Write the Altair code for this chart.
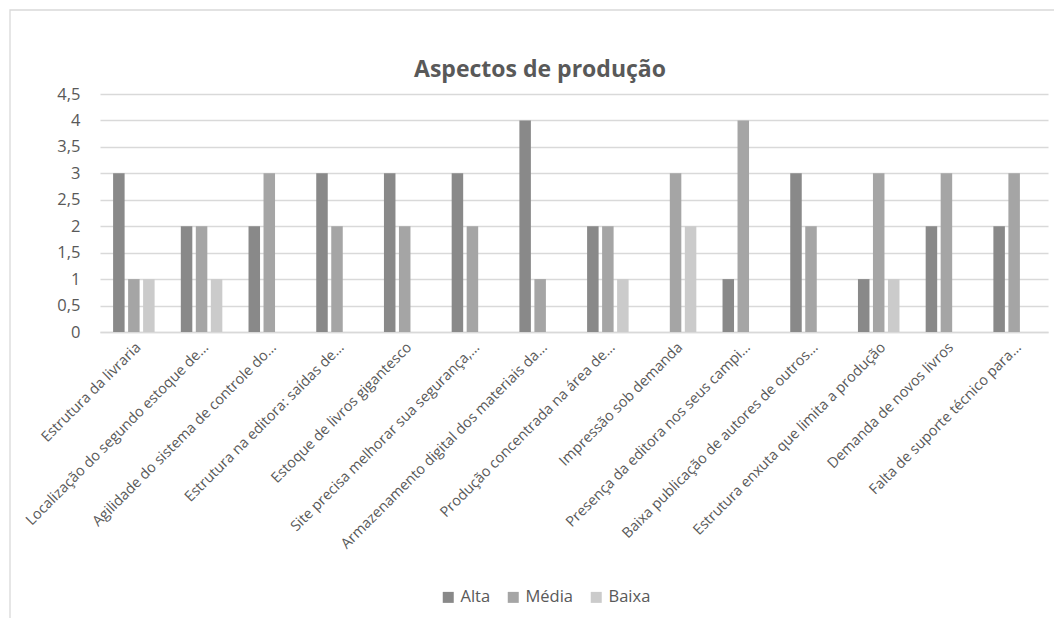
import altair as alt
import pandas as pd

categories = [
    "Estrutura da livraria",
    "Localização do segundo estoque de…",
    "Agilidade do sistema de controle do…",
    "Estrutura na editora: saídas de…",
    "Estoque de livros gigantesco",
    "Site precisa melhorar sua segurança,…",
    "Armazenamento digital dos materiais da…",
    "Produção concentrada na área de…",
    "Impressão sob demanda",
    "Presença da editora nos seus campi…",
    "Baixa publicação de autores de outros…",
    "Estrutura enxuta que limita a produção",
    "Demanda de novos livros",
    "Falta de suporte técnico para…",
]
alta = [3, 2, 2, 3, 3, 3, 4, 2, 0, 1, 3, 1, 2, 2]
media = [1, 2, 3, 2, 2, 2, 1, 2, 3, 4, 2, 3, 3, 3]
baixa = [1, 1, 0, 0, 0, 0, 0, 1, 2, 0, 0, 1, 0, 0]
series = ["Alta", "Média", "Baixa"]
colors = ["#898989", "#a5a5a5", "#cbcbcb"]
y_ticks = [0, 0.5, 1, 1.5, 2, 2.5, 3, 3.5, 4, 4.5]

rows = []
for i, c in enumerate(categories):
    for s, vals in zip(series, [alta, media, baixa]):
        rows.append({"cat": c, "serie": s, "valor": vals[i]})
df = pd.DataFrame(rows)

FONT = "Open Sans"
TXT = "#595959"

border = alt.Chart(pd.DataFrame({"a": [0]})).mark_rect(
    fill=None, stroke="#d9d9d9", strokeWidth=1.3
).encode(
    x=alt.value(-90), x2=alt.value(1100), y=alt.value(-84), y2=alt.value(700)
)

bars = alt.Chart(df).mark_bar().encode(
    x=alt.X("cat:N", sort=categories, title=None,
            scale=alt.Scale(paddingInner=0, paddingOuter=0),
            axis=alt.Axis(labelAngle=-45, labelFontSize=14.5, labelColor=TXT,
                          labelPadding=8, labelLimit=400, ticks=False,
                          domainColor="#d9d9d9", domainWidth=1.6, grid=False)),
    xOffset=alt.XOffset("serie:N", sort=series,
                        scale=alt.Scale(domain=series, paddingInner=0.233, paddingOuter=0.873)),
    y=alt.Y("valor:Q", title=None,
            scale=alt.Scale(domain=[0, 4.5], nice=False),
            axis=alt.Axis(values=y_ticks, format=".1~f",
                          labelExpr="replace(datum.label, '.', ',')",
                          labelFontSize=16.5, labelColor=TXT, ticks=False, tickSize=0,
                          labelPadding=20, domain=False, gridColor="#d9d9d9",
                          gridWidth=1.3)),
    color=alt.Color("serie:N", sort=series,
                    scale=alt.Scale(domain=series, range=colors),
                    legend=alt.Legend(title=None, orient="none", legendX=340, legendY=495,
                                      direction="horizontal", symbolType="square",
                                      symbolSize=121, symbolStrokeWidth=0,
                                      labelFontSize=16.5, labelColor=TXT,
                                      columnPadding=14, labelOffset=4)),
)

chart = alt.layer(border, bars).properties(
    width=948, height=238,
    autosize=alt.AutoSizeParams(type="none"),
    padding={"left": 92, "top": 86, "right": 6, "bottom": 286},
    title=alt.TitleParams("Aspectos de produção", fontSize=23, fontWeight="bold",
                          color=TXT, font=FONT, anchor="middle", dx=-34, dy=87, offset=14),
).configure(font=FONT).configure_view(stroke=None)

chart.save("out.html", embed_options={"renderer": "svg", "actions": False})
